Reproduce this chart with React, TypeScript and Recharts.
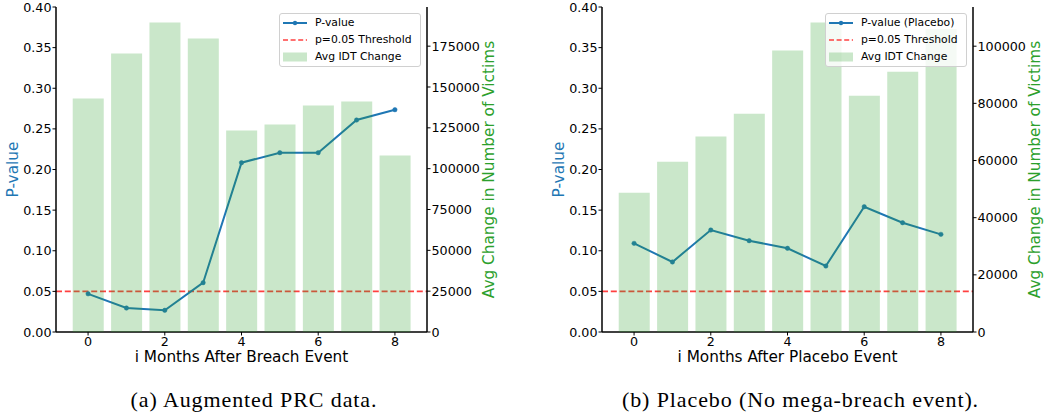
import React from 'react';
import { ComposedChart, Bar, Line, XAxis, YAxis, ReferenceLine } from 'recharts';

const months = [0, 1, 2, 3, 4, 5, 6, 7, 8];

const pValueAugmented = [0.047, 0.0295, 0.0267, 0.0607, 0.2084, 0.2207, 0.2207, 0.2609, 0.2736];
const idtChangeAugmented = [142900, 170500, 189500, 179700, 123300, 127000, 138600, 141100, 108000];

const pValuePlacebo = [0.1091, 0.0862, 0.1255, 0.1124, 0.103, 0.0812, 0.1542, 0.1345, 0.1202];
const idtChangePlacebo = [48700, 59600, 68400, 76400, 98500, 108300, 82700, 91100, 106000];

const pThreshold = 0.05;
const pTicks = [0, 0.05, 0.1, 0.15, 0.2, 0.25, 0.3, 0.35, 0.4];
const augmentedIdtTicks = [0, 25000, 50000, 75000, 100000, 125000, 150000, 175000];
const placeboIdtTicks = [0, 20000, 40000, 60000, 80000, 100000];

const BLUE = '#1f77b4';
const GREEN = '#2ca02c';
const FONT = 'DejaVu Sans';
const W = 515;
const H = 372;
const MARGIN = { top: 7, right: 0, bottom: 5, left: 0 };
const X_PAD = { left: 12.9, right: 12.9 };

const tickStyle = { fill: '#000', fontSize: 12.7, fontFamily: FONT };
const spine = { stroke: '#000', strokeWidth: 1.5 };

const yLabel = (text: string, color: string, dx: number) => (props: any) => {
  const vb = props.viewBox;
  const x = vb.x + dx;
  const y = vb.y + vb.height / 2;
  return (
    <text
      x={x}
      y={y}
      transform={`rotate(-90 ${x} ${y})`}
      textAnchor="middle"
      dominantBaseline="central"
      fill={color}
      fontSize={15.3}
      fontFamily={FONT}
    >
      {text}
    </text>
  );
};

const xLabel = (text: string) => (props: any) => {
  const vb = props.viewBox;
  return (
    <text
      x={vb.x + vb.width / 2}
      y={vb.y + 25}
      textAnchor="middle"
      dominantBaseline="central"
      fill="#000"
      fontSize={15.3}
      fontFamily={FONT}
    >
      {text}
    </text>
  );
};

function LegendBox({ lineName }: { lineName: string }) {
  const row = { display: 'flex', alignItems: 'center', height: 17, whiteSpace: 'nowrap' } as const;
  return (
    <div
      style={{
        position: 'absolute',
        left: 279,
        top: 13,
        width: 142,
        height: 54,
        boxSizing: 'border-box',
        border: '1px solid #d0d0d0',
        borderRadius: 3,
        background: 'rgba(255,255,255,0.8)',
        fontFamily: FONT,
        fontSize: 10.8,
        color: '#000',
        padding: '0 0 0 3px',
      }}
    >
      <div style={row}>
        <svg width={24} height={10} style={{ marginRight: 8, flex: 'none' }}>
          <line x1={0} y1={5} x2={24} y2={5} stroke={BLUE} strokeWidth={2} />
          <circle cx={12} cy={5} r={2.2} fill={BLUE} />
        </svg>
        <span>{lineName}</span>
      </div>
      <div style={row}>
        <svg width={24} height={10} style={{ marginRight: 8, flex: 'none' }}>
          <line x1={0} y1={5} x2={24} y2={5} stroke="#ff0000" strokeOpacity={0.75} strokeWidth={1.5} strokeDasharray="5 2.6" />
        </svg>
        <span>p=0.05 Threshold</span>
      </div>
      <div style={row}>
        <svg width={24} height={10} style={{ marginRight: 8, flex: 'none' }}>
          <rect x={0} y={0.5} width={24} height={9} fill={GREEN} fillOpacity={0.25} />
        </svg>
        <span>Avg IDT Change</span>
      </div>
    </div>
  );
}

type PanelProps = {
  left: number;
  pValues: number[];
  idtValues: number[];
  idtTicks: number[];
  lineName: string;
  xTitle: string;
};

function Panel({ left, pValues, idtValues, idtTicks, lineName, xTitle }: PanelProps) {
  const data = months.map((m, i) => ({ month: m, p: pValues[i], idt: idtValues[i] }));
  const idtDomain: any = [0, (max: number) => max * 1.05];
  return (
    <div style={{ position: 'absolute', left, top: 0, width: W, height: H }}>
      {/* axes, p-value line and threshold */}
      <div style={{ position: 'absolute', left: 0, top: 0 }}>
        <ComposedChart width={W} height={H} data={data} margin={MARGIN}>
          <XAxis
            dataKey="month"
            height={35}
            padding={X_PAD}
            interval={1}
            axisLine={spine}
            tickLine={{ stroke: '#000' }}
            tickSize={3.5}
            tickMargin={1}
            tick={tickStyle}
            label={xLabel(xTitle)}
          />
          <XAxis
            xAxisId="top"
            dataKey="month"
            orientation="top"
            height={0}
            tick={false}
            tickLine={false}
            axisLine={spine}
          />
          <YAxis
            yAxisId="p"
            width={56}
            domain={[0, 0.4]}
            ticks={pTicks}
            tickFormatter={(v: number) => v.toFixed(2)}
            axisLine={spine}
            tickLine={{ stroke: '#000' }}
            tickSize={3.5}
            tickMargin={1}
            tick={tickStyle}
            label={yLabel('P-value', BLUE, 13)}
          />
          <YAxis
            yAxisId="idt"
            orientation="right"
            width={88}
            domain={idtDomain}
            ticks={idtTicks}
            axisLine={spine}
            tickLine={{ stroke: '#000' }}
            tickSize={3.5}
            tickMargin={1}
            tick={tickStyle}
            label={yLabel('Avg Change in Number of Victims', GREEN, 62)}
          />
          {/* invisible copy of the bars keeps the band layout and the right-axis domain */}
          <Bar yAxisId="idt" dataKey="idt" fill={GREEN} fillOpacity={0} isAnimationActive={false} />
          <ReferenceLine
            yAxisId="p"
            y={pThreshold}
            stroke="#ff0000"
            strokeOpacity={0.75}
            strokeWidth={1.7}
            strokeDasharray="6 2.8"
          />
          <Line
            yAxisId="p"
            dataKey="p"
            stroke={BLUE}
            strokeWidth={2}
            dot={{ r: 2.2, fill: BLUE, stroke: BLUE, strokeWidth: 0.5 }}
            activeDot={false}
            isAnimationActive={false}
          />
        </ComposedChart>
      </div>
      {/* twin axis bars drawn on top, like matplotlib's twinx */}
      <div style={{ position: 'absolute', left: 0, top: 0, pointerEvents: 'none' }}>
        <ComposedChart width={W} height={H} data={data} margin={MARGIN} style={{ background: 'transparent' }}>
          <XAxis dataKey="month" height={35} padding={X_PAD} tick={false} tickLine={false} axisLine={false} />
          <YAxis yAxisId="p" width={56} domain={[0, 0.4]} tick={false} tickLine={false} axisLine={false} />
          <YAxis
            yAxisId="idt"
            orientation="right"
            width={88}
            domain={idtDomain}
            ticks={idtTicks}
            tick={false}
            tickLine={false}
            axisLine={false}
          />
          <Bar yAxisId="idt" dataKey="idt" fill={GREEN} fillOpacity={0.25} isAnimationActive={false} />
        </ComposedChart>
      </div>
      <LegendBox lineName={lineName} />
    </div>
  );
}

const captionStyle = {
  position: 'absolute',
  top: 388,
  lineHeight: '24px',
  textAlign: 'center',
  fontFamily: 'Liberation Serif',
  fontSize: 22,
  letterSpacing: '0.9px',
  color: '#000',
} as const;

export default function App() {
  return (
    <div style={{ position: 'absolute', left: 0, top: 0, width: 1061, height: 416, background: '#fff', overflow: 'hidden' }}>
      <Panel
        left={0}
        pValues={pValueAugmented}
        idtValues={idtChangeAugmented}
        idtTicks={augmentedIdtTicks}
        lineName="P-value"
        xTitle="i Months After Breach Event"
      />
      <Panel
        left={546}
        pValues={pValuePlacebo}
        idtValues={idtChangePlacebo}
        idtTicks={placeboIdtTicks}
        lineName="P-value (Placebo)"
        xTitle="i Months After Placebo Event"
      />
      <div style={{ ...captionStyle, left: 0, width: 508 }}>(a) Augmented PRC data.</div>
      <div style={{ ...captionStyle, left: 546, width: 509 }}>(b) Placebo (No mega-breach event).</div>
    </div>
  );
}
